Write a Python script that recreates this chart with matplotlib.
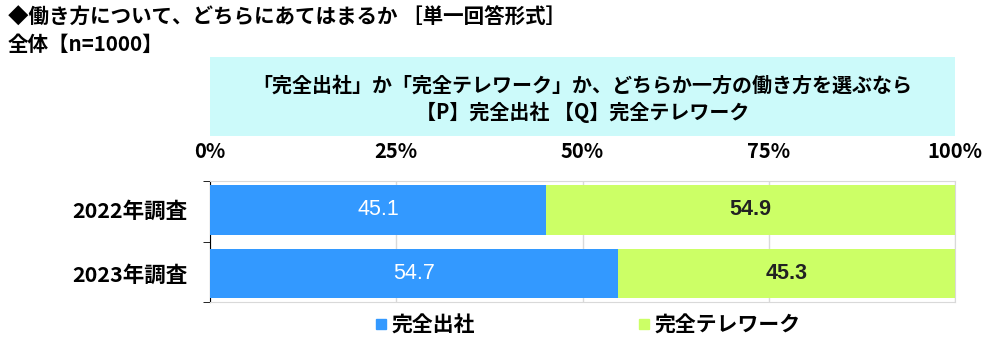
import matplotlib.pyplot as plt
from matplotlib.lines import Line2D
from matplotlib.patches import Rectangle

plt.rcParams['font.family'] = ['Noto Sans CJK JP', 'DejaVu Sans']

# データ
years = ['2022年調査', '2023年調査']
office = [45.1, 54.7]       # 完全出社
telework = [54.9, 45.3]     # 完全テレワーク
series_names = ['完全出社', '完全テレワーク']
colors = ['#3399FF', '#CCFF66']
ticks = [0, 25, 50, 75, 100]
tick_labels = ['0%', '25%', '50%', '75%', '100%']

fig = plt.figure(figsize=(10, 3.51), dpi=100)
ax = fig.add_axes([0.21, 0.1396, 0.745, 0.3447])

y = list(range(len(years)))
b1 = ax.barh(y, office, height=0.78, color=colors[0], label=series_names[0], zorder=3)
b2 = ax.barh(y, telework, left=office, height=0.78, color=colors[1], label=series_names[1], zorder=3)

for rects, vals, lefts in [(b1, office, [0, 0]), (b2, telework, office)]:
    for r, v, l in zip(rects, vals, lefts):
        ax.text(l + v / 2, r.get_y() + r.get_height() / 2, f'{v:.1f}',
                ha='center', va='center', color='white' if rects is b1 else '#222222',
                fontsize=15.5, fontweight='bold' if rects is b2 else 'medium',
                family=['Liberation Sans', 'DejaVu Sans'], zorder=4)

ax.set_xlim(0, 100)
ax.set_ylim(1.45, -0.45)
ax.set_xticks(ticks)
ax.set_xticklabels(tick_labels, fontsize=14.5, fontweight='bold')
ax.xaxis.tick_top()
ax.tick_params(axis='x', length=0, pad=14)
ax.set_yticks(y)
ax.set_yticklabels(years, fontsize=15.5, fontweight='bold')
ax.tick_params(axis='y', which='major', length=0, pad=16)
ax.set_yticks([-0.45, 0.5, 1.45], minor=True)
ax.tick_params(axis='y', which='minor', length=5, direction='out', color='black')
ax.grid(axis='x', color='#D9D9D9', linewidth=1, zorder=0)
for s in ['top', 'right', 'bottom']:
    ax.spines[s].set_color('#D9D9D9')
ax.spines['left'].set_color('black')

# タイトル
fig.text(0.008, 0.95, '◆働き方について、どちらにあてはまるか ［単一回答形式］',
         fontsize=14.8, fontweight='bold', va='center')
fig.text(0.008, 0.872, '全体【n=1000】', fontsize=14.8, fontweight='bold', va='center')

# 設問ボックス
fig.patches.append(Rectangle((0.21, 1 - 136 / 351), 0.745, 79 / 351,
                             transform=fig.transFigure, facecolor='#CCFAFA',
                             edgecolor='none', zorder=0))
fig.text(0.5825, 1 - 85 / 351, '「完全出社」か「完全テレワーク」か、どちらか一方の働き方を選ぶなら',
         fontsize=14.4, fontweight='bold', ha='center', va='center')
fig.text(0.5825, 1 - 112 / 351, '【P】完全出社 【Q】完全テレワーク',
         fontsize=14.4, fontweight='bold', ha='center', va='center')

handles = [Line2D([], [], marker='s', linestyle='none', markersize=7,
                  markerfacecolor=c, markeredgecolor=c) for c in colors]
fig.legend(handles, series_names, loc='center', bbox_to_anchor=(0.5875, 1 - 325 / 351),
           ncol=2, frameon=False, prop={'size': 15, 'weight': 'bold'},
           handlelength=0.6, handletextpad=0.2, columnspacing=7.8)

fig.savefig('out.png', dpi=100)
